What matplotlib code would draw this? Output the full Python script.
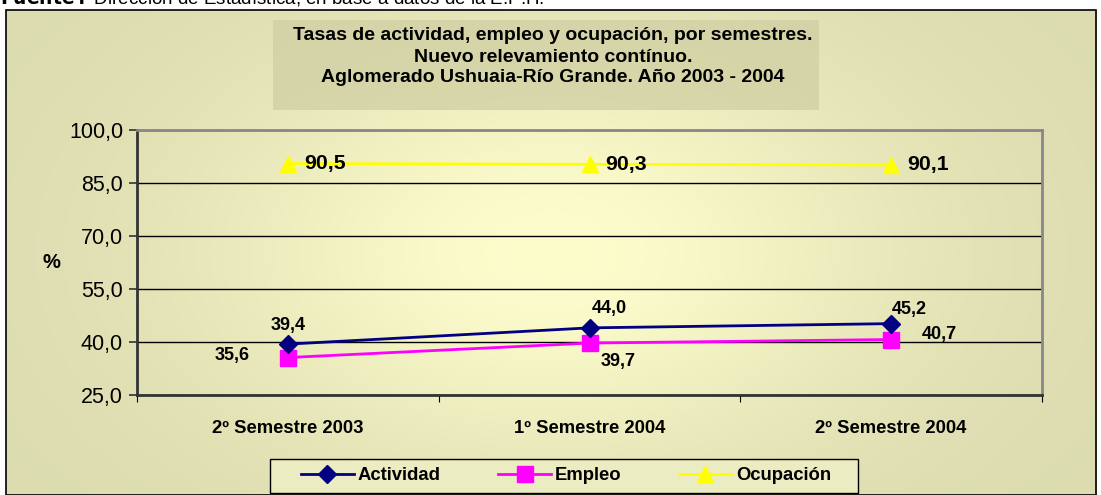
import matplotlib
matplotlib.use("Agg")
import matplotlib.pyplot as plt
import numpy as np
from matplotlib.patches import Rectangle
from matplotlib.ticker import FuncFormatter, FixedLocator

plt.rcParams["font.family"] = ["Liberation Sans", "DejaVu Sans"]

categorias = ["2º Semestre 2003", "1º Semestre 2004", "2º Semestre 2004"]
actividad = [39.4, 44.0, 45.2]
empleo = [35.6, 39.7, 40.7]
ocupacion = [90.5, 90.3, 90.1]
y_ticks = [25, 40, 55, 70, 85, 100]

W, H = 1101, 495
fig = plt.figure(figsize=(W / 100, H / 100), dpi=100)
fig.patch.set_facecolor("white")

# Fondo degradado del grafico
bg = fig.add_axes([6 / W, 0, 1091 / W, 485 / H], zorder=-10)
gx, gy = np.meshgrid(np.linspace(0, 1, 400), np.linspace(0, 1, 200))
peso = np.exp(-((gx - 0.5) / 0.32) ** 2 - ((gy - 0.5) / 0.45) ** 2)
c_borde = np.array([0.86, 0.86, 0.69])
c_centro = np.array([0.99, 0.99, 0.80])
img = c_borde + (c_centro - c_borde) * peso[..., None]
bg.imshow(img, aspect="auto", extent=[0, 1, 0, 1], origin="lower")
bg.set_xlim(0, 1)
bg.set_ylim(0, 1)
bg.axis("off")
fig.patches.append(Rectangle((6 / W, 0), 1090 / W, 485 / H, transform=fig.transFigure,
                             fill=False, edgecolor="black", linewidth=1.2, zorder=5))

# Fuente (cortada arriba en el original)
fig.text(0, 1 + 2 / H, r"$\bf{Fuente:}$ Dirección de Estadística, en base a datos de la E.P.H.",
         fontsize=13.5, va="center", ha="left")

# Caja del titulo
fig.patches.append(Rectangle((273 / W, (H - 110) / H), 546 / W, 90 / H, transform=fig.transFigure,
                             facecolor="#cfcfa3", edgecolor="none", alpha=0.75, zorder=1))
titulo = ["Tasas de actividad, empleo y ocupación, por semestres.",
          "Nuevo relevamiento contínuo.",
          "Aglomerado Ushuaia-Río Grande. Año 2003 - 2004"]
for i, linea in enumerate(titulo):
    fig.text(553 / W, (H - 36 - 21 * i) / H, linea, fontsize=14, fontweight="bold",
             ha="center", va="center", zorder=2)

ax = fig.add_axes([137 / W, (H - 395) / H, 905 / W, 265 / H])
ax.set_facecolor("none")
x = np.arange(len(categorias))

ax.plot(x, ocupacion, color="#ffff00", linewidth=2, marker="^", markersize=12, zorder=3)
ax.plot(x, empleo, color="#ff00ff", linewidth=2, marker="s", markersize=11, zorder=3)
ax.plot(x, actividad, color="#000080", linewidth=2, marker="D", markersize=9, zorder=4)

ax.set_xlim(-0.5, 2.5)
ax.set_ylim(25, 100)
ax.yaxis.set_major_locator(FixedLocator(y_ticks))
ax.yaxis.set_major_formatter(FuncFormatter(lambda v, p: f"{v:.1f}".replace(".", ",")))
ax.grid(axis="y", color="black", linewidth=1)
ax.set_axisbelow(True)

ax.set_xticks([-0.5, 0.5, 1.5, 2.5])
ax.set_xticklabels([])
ax.set_xticks(x, minor=True)
ax.set_xticklabels(categorias, minor=True, fontsize=13.3, fontweight="bold")
ax.tick_params(axis="x", which="minor", length=0, pad=18)
ax.tick_params(axis="x", which="major", length=5, direction="out", color="black")
ax.tick_params(axis="y", length=6, width=1.2, pad=4, labelsize=15.5, color="#333333")

for lado in ["left", "bottom"]:
    ax.spines[lado].set_color("#333333")
    ax.spines[lado].set_linewidth(2)
for lado in ["right", "top"]:
    ax.spines[lado].set_color("#888888")
    ax.spines[lado].set_linewidth(2)

fig.text(51 / W, (H - 263) / H, "%", fontsize=14.5, fontweight="bold", ha="center", va="center")

def etiqueta(v):
    return f"{v:.1f}".replace(".", ",")

off_act = [(0, 19), (20, 19), (18, 14)]
off_emp = [(-56, 2), (29, -18), (48, 5)]
for i in range(3):
    ax.annotate(etiqueta(actividad[i]), (x[i], actividad[i]), xytext=off_act[i],
                textcoords="offset pixels", ha="center", va="center",
                fontsize=13, fontweight="bold")
    ax.annotate(etiqueta(empleo[i]), (x[i], empleo[i]), xytext=off_emp[i],
                textcoords="offset pixels", ha="center", va="center",
                fontsize=13, fontweight="bold")
    ax.annotate(etiqueta(ocupacion[i]), (x[i], ocupacion[i]), xytext=(37, 0),
                textcoords="offset pixels", ha="center", va="center",
                fontsize=15.3, fontweight="bold")

# Leyenda
fig.patches.append(Rectangle((270 / W, (H - 493) / H), 588 / W, 34 / H, transform=fig.transFigure,
                             facecolor="#ececc2", edgecolor="black", linewidth=1, zorder=2))
h_act, = ax.plot([], [], color="#000080", linewidth=2, marker="D", markersize=9)
h_emp, = ax.plot([], [], color="#ff00ff", linewidth=2, marker="s", markersize=11)
h_ocu, = ax.plot([], [], color="#ffff00", linewidth=2, marker="^", markersize=12)
leg = fig.legend([h_act, h_emp, h_ocu], ["Actividad", "Empleo", "Ocupación"],
                 ncol=3, loc="center", bbox_to_anchor=(566 / W, (H - 476) / H),
                 prop={"weight": "bold", "size": 13.3}, frameon=False,
                 handlelength=2.86, handletextpad=0.22, columnspacing=3.1,
                 borderpad=0, borderaxespad=0)
leg.set_zorder(3)

fig.savefig("out.png", dpi=100)
